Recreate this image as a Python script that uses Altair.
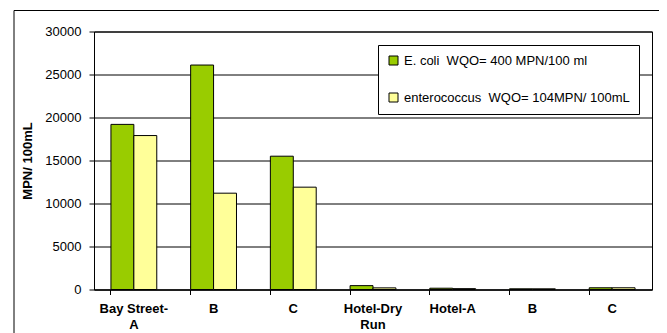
import altair as alt
import pandas as pd

sites = ["Bay Street-A", "Bay Street-B", "Bay Street-C", "Hotel-Dry Run", "Hotel-A", "Hotel-B", "Hotel-C"]
tick_labels = [["Bay Street-", "A"], ["B"], ["C"], ["Hotel-Dry", "Run"], ["Hotel-A"], ["B"], ["C"]]
series = ["E. coli\u00a0 WQO= 400 MPN/100 ml", "enterococcus\u00a0 WQO= 104MPN/ 100mL"]
ecoli = [19200, 26100, 15500, 450, 150, 80, 200]
entero = [17900, 11200, 11900, 190, 100, 80, 200]
colors = ["#99CC00", "#FFFF99"]
y_ticks = [0, 5000, 10000, 15000, 20000, 25000, 30000]

rows = []
for s, a, b in zip(sites, ecoli, entero):
    rows.append({"site": s, "series": series[0], "value": a})
    rows.append({"site": s, "series": series[1], "value": b})
df = pd.DataFrame(rows)

FONT = "Liberation Sans"

lab_arr = "[" + ",".join("[" + ",".join("'%s'" % p for p in l) + "]" for l in tick_labels) + "]"
site_arr = "[" + ",".join("'%s'" % s for s in sites) + "]"
label_expr = "%s[indexof(%s, datum.value)]" % (lab_arr, site_arr)

bars = alt.Chart(df).mark_bar(stroke="black", strokeWidth=1).encode(
    x=alt.X("site:N", sort=sites, title=None,
            scale=alt.Scale(paddingInner=0.425, paddingOuter=0.2125),
            axis=alt.Axis(labelExpr=label_expr, labelAngle=0, labelFont=FONT, labelFontSize=13,
                          labelFontWeight="bold", labelColor="black", labelPadding=8,
                          labelLineHeight=16, bandPosition=0, tickColor="black", tickSize=5,
                          domainColor="black", grid=False)),
    xOffset=alt.XOffset("series:N", sort=series, scale=alt.Scale(paddingInner=0, paddingOuter=0)),
    y=alt.Y("value:Q", title="MPN/ 100mL",
            scale=alt.Scale(domain=[0, 30000], nice=False),
            axis=alt.Axis(values=y_ticks, format="d", labelFont=FONT, labelFontSize=13, labelColor="black",
                          labelPadding=8, tickColor="black", tickSize=5, domainColor="black",
                          gridColor="black", gridOpacity=1, gridWidth=1,
                          titleFont=FONT, titleFontSize=13, titleFontWeight="bold",
                          titleColor="black", titlePadding=10)),
    color=alt.Color("series:N", sort=series, scale=alt.Scale(domain=series, range=colors),
                    legend=alt.Legend(title=None, orient="none", legendX=284, legendY=13.5,
                                      labelFont=FONT, labelFontSize=13, labelColor="black",
                                      labelLimit=0,
                                      symbolType="square", symbolSize=81,
                                      symbolStrokeColor="black", symbolStrokeWidth=1,
                                      rowPadding=23, padding=9, labelOffset=4,
                                      strokeColor="black", fillColor="white")),
)

frame = alt.Chart(pd.DataFrame({"a": [0]})).mark_rect(fill=None, stroke="black", strokeWidth=1).encode(
    x=alt.value(-80), x2=alt.value(568), y=alt.value(-21), y2=alt.value(330)
)

chart = alt.layer(frame, bars).properties(
    width=558, height=258,
    autosize=alt.AutoSizeParams(type="none"),
    padding={"left": 86, "top": 23.5, "right": 7, "bottom": 44},
    background="white",
).configure_view(stroke="black", strokeWidth=1)

chart.save("out.html", embed_options={"renderer": "svg", "actions": False})
